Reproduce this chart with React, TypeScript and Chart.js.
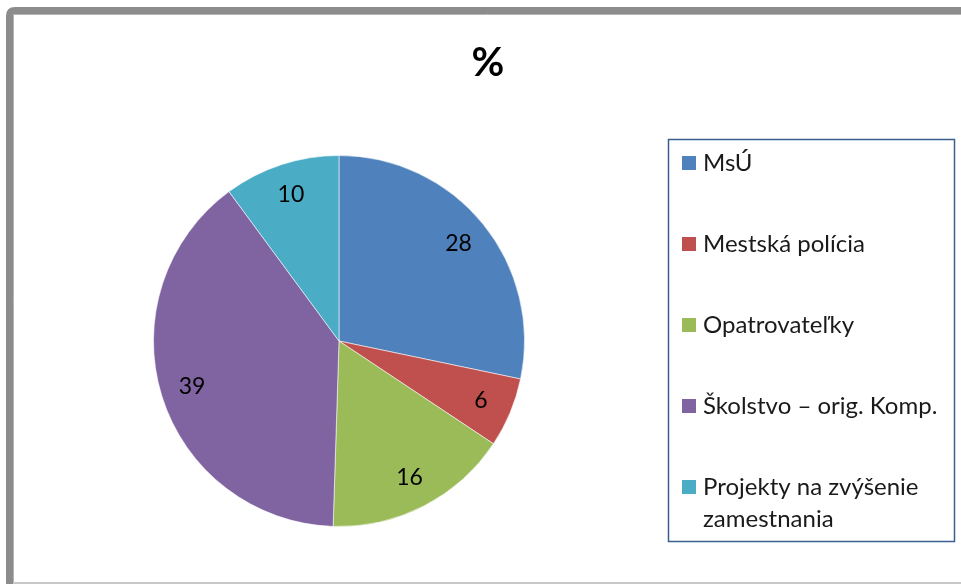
import React, { useEffect, useRef } from "react";
import { Chart, registerables } from "chart.js";

Chart.register(...registerables);

const categories = [
  "MsÚ",
  "Mestská polícia",
  "Opatrovateľky",
  "Školstvo – orig. Komp.",
  "Projekty na zvýšenie zamestnania",
];
const values = [28, 6, 16, 39, 10];
const colors = ["#4F81BD", "#C0504D", "#9BBB59", "#8064A2", "#4BACC6"];
const titleText = "%";

const FONT = "Lato, 'Open Sans', sans-serif";

const decorPlugin = {
  id: "decor",
  beforeDraw(chart: any) {
    const ctx = chart.ctx;
    ctx.save();
    ctx.fillStyle = "#ffffff";
    ctx.fillRect(0, 0, chart.width, chart.height);
    // frame
    ctx.strokeStyle = "#8c8c8c";
    ctx.lineWidth = 7;
    ctx.beginPath();
    ctx.moveTo(9.5, 590);
    ctx.lineTo(9.5, 16);
    ctx.quadraticCurveTo(9.5, 10.5, 15, 10.5);
    ctx.lineTo(970, 10.5);
    ctx.stroke();
    ctx.strokeStyle = "#b4b4b4";
    ctx.lineWidth = 1;
    ctx.beginPath();
    ctx.moveTo(13.5, 590);
    ctx.lineTo(13.5, 14.5);
    ctx.lineTo(970, 14.5);
    ctx.stroke();
    ctx.strokeStyle = "#c8c8c8";
    ctx.lineWidth = 2;
    ctx.beginPath();
    ctx.moveTo(13, 583);
    ctx.lineTo(970, 583);
    ctx.stroke();
    ctx.restore();
  },
  afterDraw(chart: any) {
    const ctx = chart.ctx;
    ctx.save();
    // title
    ctx.fillStyle = "#000000";
    ctx.font = `bold 40px ${FONT}`;
    ctx.textAlign = "center";
    ctx.textBaseline = "middle";
    ctx.fillText(titleText, 488, 63);

    // data labels
    const meta = chart.getDatasetMeta(0);
    ctx.font = `23px ${FONT}`;
    ctx.fillStyle = "#000000";
    meta.data.forEach((arc: any, i: number) => {
      const p = arc.getProps(["x", "y", "startAngle", "endAngle", "outerRadius"], true);
      const mid = (p.startAngle + p.endAngle) / 2;
      const r = p.outerRadius * 0.83;
      ctx.fillText(String(values[i]), p.x + Math.cos(mid) * r, p.y + Math.sin(mid) * r);
    });

    // legend
    const bx = 668.5, by = 139.5, bw = 286, bh = 402;
    ctx.strokeStyle = "#3A5F8F";
    ctx.lineWidth = 1.5;
    ctx.strokeRect(bx, by, bw, bh);
    ctx.font = `24px ${FONT}`;
    ctx.textAlign = "left";
    const maxW = 245;
    categories.forEach((label, i) => {
      const cy = 163 + i * 81;
      ctx.fillStyle = colors[i];
      ctx.fillRect(682, cy - 7, 14, 14);
      ctx.fillStyle = "#1a1a1a";
      const words = label.split(" ");
      const lines: string[] = [];
      let cur = "";
      words.forEach((w) => {
        const t = cur ? cur + " " + w : w;
        if (ctx.measureText(t).width > maxW && cur) {
          lines.push(cur);
          cur = w;
        } else cur = t;
      });
      lines.push(cur);
      lines.forEach((ln, j) => ctx.fillText(ln, 703, cy + j * 32));
    });
    ctx.restore();
  },
};

export default function App() {
  const ref = useRef<HTMLCanvasElement | null>(null);
  useEffect(() => {
    if (!ref.current) return;
    const chart = new Chart(ref.current, {
      type: "pie",
      data: {
        labels: categories,
        datasets: [
          {
            data: values,
            backgroundColor: colors,
            borderColor: "rgba(255,255,255,0.55)",
            borderWidth: 1,
          },
        ],
      },
      options: {
        responsive: false,
        animation: false,
        devicePixelRatio: 1,
        layout: { padding: { left: 153, top: 155, right: 436, bottom: 57 } },
        plugins: {
          legend: { display: false },
          title: { display: false },
          tooltip: { enabled: false },
        },
      },
      plugins: [decorPlugin],
    });
    return () => chart.destroy();
  }, []);
  return (
    <div style={{ position: "absolute", left: 0, top: 0, width: 961, height: 584 }}>
      <canvas ref={ref} width={961} height={584} style={{ width: 961, height: 584 }} />
    </div>
  );
}
